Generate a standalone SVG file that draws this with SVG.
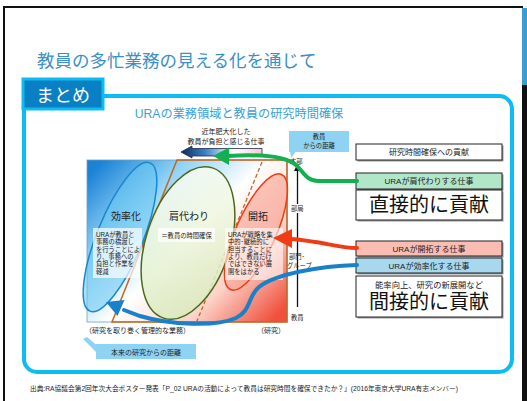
<svg xmlns="http://www.w3.org/2000/svg" width="527" height="401" viewBox="0 0 527 401">
<defs>
<style>
text{font-family:"Liberation Sans","Noto Sans CJK JP",sans-serif;}
.sm{font-size:6.3px;fill:#222;}
.lbl{font-size:7px;fill:#222;}
.box{stroke:#222;stroke-width:1;}
.shadow{fill:#999;}
.conn{fill:none;stroke-width:4;stroke-linecap:round;}
</style>
<linearGradient id="bg" x1="0" y1="0.1" x2="1" y2="0.9">
<stop offset="0" stop-color="#1b82d6"/>
<stop offset="0.25" stop-color="#8fd2f6"/>
<stop offset="0.5" stop-color="#ffffff"/>
<stop offset="0.75" stop-color="#fcd2c8"/>
<stop offset="1" stop-color="#f0503c"/>
</linearGradient>
<linearGradient id="gr" x1="0.3" y1="0" x2="0.7" y2="1">
<stop offset="0" stop-color="#fbfdf4"/>
<stop offset="1" stop-color="#d8eabc"/>
</linearGradient>
<linearGradient id="ar" x1="0" y1="0" x2="1" y2="0">
<stop offset="0" stop-color="#0e2658"/>
<stop offset="0.3" stop-color="#3a84c4"/>
<stop offset="0.65" stop-color="#ffffff"/>
<stop offset="1" stop-color="#f6cccc"/>
</linearGradient>
</defs>
<rect width="527" height="401" fill="#ffffff"/>
<!-- page frame -->
<rect x="3" y="6" width="520" height="2" fill="#111"/>
<rect x="3" y="6" width="2" height="395" fill="#111"/>
<rect x="522" y="8" width="5" height="77" fill="#3a9fd0"/>
<rect x="522" y="85" width="5" height="316" fill="#111"/>
<text x="37" y="67" font-size="17.5" fill="#3a90c8">教員の多忙業務の見える化を通じて</text>
<!-- summary frame -->
<rect x="24" y="96" width="488" height="276" rx="13" fill="none" stroke="#0cbcf2" stroke-width="4"/>
<rect x="23" y="79" width="80" height="30" fill="#0a80c4" stroke="#0cbcf2" stroke-width="3"/>
<text x="63" y="102" font-size="18" fill="#ffffff" text-anchor="middle">まとめ</text>
<text x="239" y="118" font-size="12.2" fill="#3a9fd8" text-anchor="middle">URAの業務領域と教員の研究時間確保</text>

<!-- diagram area -->
<g id="field">
<rect x="87" y="160" width="200" height="162" fill="url(#bg)" stroke="#6aa0c8" stroke-width="0.8"/>
<polygon points="177,160 287,160 287,322 112,322" fill="none" stroke="#c8641a" stroke-width="1.5"/>
<line x1="262" y1="162" x2="197" y2="321" stroke="#c8641a" stroke-width="1.3" stroke-dasharray="4,2.5"/>
</g>
<g id="efficiency">
<ellipse cx="0" cy="0" rx="23" ry="80" transform="translate(120,237) rotate(22)" fill="#6cc8f2" fill-opacity="0.55" stroke="#1a88d0" stroke-width="1.5"/>
<text x="126" y="220" font-size="10" fill="#222" text-anchor="middle">効率化</text>
<rect x="93" y="228" width="49" height="50" fill="#ffffff" fill-opacity="0.7"/>
<text class="sm" x="96" y="237">URAが教員と</text>
<text class="sm" x="96" y="244.3">事務の橋渡し</text>
<text class="sm" x="96" y="251.6">を行うことによ</text>
<text class="sm" x="96" y="258.9">り、事務への</text>
<text class="sm" x="96" y="266.2">負担と作業を</text>
<text class="sm" x="96" y="273.5">軽減</text>
</g>
<g id="takeover">
<ellipse cx="0" cy="0" rx="42" ry="79" transform="translate(188,243) rotate(18)" fill="url(#gr)" fill-opacity="0.85" stroke="#4a6a1a" stroke-width="1.5"/>
<text x="189" y="220" font-size="10" fill="#222" text-anchor="middle">肩代わり</text>
<rect x="158" y="228" width="57" height="14" fill="#ffffff" fill-opacity="0.7"/>
<text class="sm" x="186.5" y="237.5" text-anchor="middle">＝教員の時間確保</text>
</g>
<g id="pioneer">
<ellipse cx="0" cy="0" rx="20" ry="63" transform="translate(256,232) rotate(24)" fill="#f8a090" fill-opacity="0.6" stroke="#f03c14" stroke-width="1.5"/>
<text x="258" y="220" font-size="10" fill="#222" text-anchor="middle">開拓</text>
<rect x="225" y="228" width="58" height="52" fill="#ffffff" fill-opacity="0.6"/>
<text class="sm" x="228" y="237">URAが戦略を集</text>
<text class="sm" x="228" y="244.3">中的･継続的に</text>
<text class="sm" x="228" y="251.6">担当することに</text>
<text class="sm" x="228" y="258.9">より、教員だけ</text>
<text class="sm" x="228" y="266.2">ではできない展</text>
<text class="sm" x="228" y="273.5">開をはかる</text>
</g>
<text class="lbl" x="85" y="333">（研究を取り巻く管理的な業務）</text>
<text class="lbl" x="257" y="333">（研究）</text>

<!-- top burden arrow -->
<g id="burden">
<text class="lbl" x="226" y="134" text-anchor="middle">近年肥大化した</text>
<text class="lbl" x="226" y="144" text-anchor="middle">教員が負担と感じる仕事</text>
<polygon points="181,152 192,146 192,148.5 262,148.5 262,156 192,156 192,158" fill="url(#ar)" stroke="#1a2a50" stroke-width="0.8"/>
</g>

<!-- axis -->
<g id="axis">
<line x1="297.5" y1="168" x2="297.5" y2="307" stroke="#111" stroke-width="1.3"/>
<polygon points="297.5,164 294,171 301,171" fill="#111"/>
<text class="sm" x="290" y="164">本部</text>
<rect x="291" y="204" width="13" height="9" fill="#fff"/>
<text class="sm" x="291" y="211">部局</text>
<text class="sm" x="289" y="259">部門･</text>
<text class="sm" x="287" y="268">グループ</text>
<text class="sm" x="291" y="320">教員</text>
</g>

<!-- callouts -->
<g id="distance-teacher">
<polygon points="290,150 297,150 291,158" fill="#8fd3f2"/>
<rect x="289" y="131" width="60" height="21" fill="#8fd3f2"/>
<text class="sm" x="319" y="139" text-anchor="middle">教員</text>
<text class="sm" x="319" y="148" text-anchor="middle">からの距離</text>
</g>
<g id="distance-research">
<polygon points="83,339 87,337 100,348 100,356" fill="#8fd3f2"/>
<rect x="96" y="344" width="100" height="15" fill="#8fd3f2"/>
<text class="lbl" x="146" y="354.5" text-anchor="middle">本来の研究からの距離</text>
</g>

<!-- right boxes -->
<g id="contribution">
<rect x="357.5" y="145.5" width="146" height="16" class="shadow"/>
<rect x="356" y="144" width="146" height="16" fill="#fff" class="box"/>
<text x="429" y="155" font-size="8" fill="#222" text-anchor="middle">研究時間確保への貢献</text>
</g>
<g id="takeover-work">
<rect x="357.5" y="174.5" width="146" height="16" class="shadow"/>
<rect x="356" y="173" width="146" height="16" fill="#b2e6c8" class="box"/>
<text x="429" y="184" font-size="8" fill="#222" text-anchor="middle">URAが肩代わりする仕事</text>
</g>
<g id="direct">
<rect x="357.5" y="191.5" width="146" height="30" class="shadow"/>
<rect x="356" y="190" width="146" height="30" fill="#fff" class="box"/>
<text x="429" y="212" font-size="20" fill="#111" text-anchor="middle">直接的に貢献</text>
</g>
<g id="pioneer-work">
<rect x="357.5" y="242.5" width="146" height="15" class="shadow"/>
<rect x="356" y="241" width="146" height="15" fill="#fbbcb2" class="box"/>
<text x="429" y="251.5" font-size="8" fill="#222" text-anchor="middle">URAが開拓する仕事</text>
</g>
<g id="efficiency-work">
<rect x="357.5" y="259.5" width="146" height="15" class="shadow"/>
<rect x="356" y="258" width="146" height="15" fill="#a8d8ee" class="box"/>
<text x="429" y="268.5" font-size="8" fill="#222" text-anchor="middle">URAが効率化する仕事</text>
</g>
<g id="indirect">
<rect x="357.5" y="277.5" width="146" height="41" class="shadow"/>
<rect x="356" y="276" width="146" height="41" fill="#fff" class="box"/>
<text x="429" y="288" font-size="8.3" fill="#222" text-anchor="middle">能率向上、研究の新展開など</text>
<text x="429" y="309" font-size="20" fill="#111" text-anchor="middle">間接的に貢献</text>
</g>

<!-- connectors -->
<g id="connectors">
<path class="conn" stroke="#12b050" d="M357,181 L318,181 C306,181 303,171 296,165 C285,156 260,154 228,156"/>
<polygon points="213,156 229,147.5 229,165" fill="#12b050"/>
<path class="conn" stroke="#f03c14" d="M357,248 C340,248 326,243 315,242 C306,241 300,239 291,239"/>
<polygon points="273,238 292,229 292,248" fill="#f03c14"/>
<path class="conn" stroke="#1a80c8" d="M357,265 C320,266 275,274 259,287 C248,296 251,311 236,318 C216,327 170,325 140,316 L124,310"/>
<polygon points="106,302 124.5,300 117.5,316" fill="#1a80c8"/>
</g>

<text x="30" y="391" font-size="6.3" fill="#222" textLength="428" lengthAdjust="spacingAndGlyphs">出典:RA協議会第2回年次大会ポスター発表「P_02 URAの活動によって教員は研究時間を確保できたか？」(2016年東京大学URA有志メンバー)</text>
</svg>
